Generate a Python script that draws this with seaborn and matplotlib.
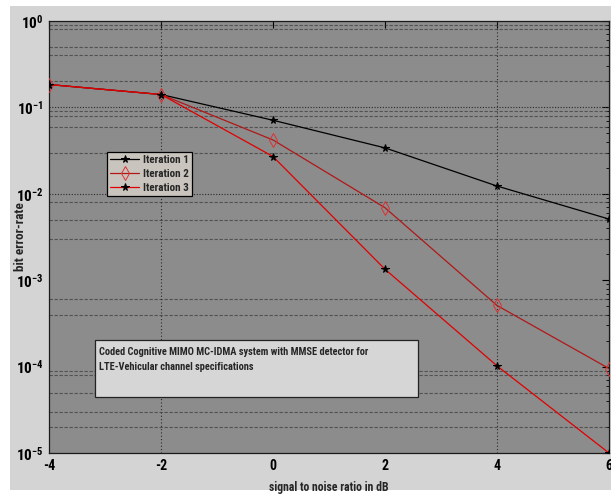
import matplotlib
matplotlib.use("Agg")
import matplotlib.pyplot as plt
import matplotlib.ticker as mticker
from matplotlib import font_manager as fm
from matplotlib.patches import Rectangle
import seaborn as sns
import pandas as pd
import numpy as np

snr = [-4, -2, 0, 2, 4, 6]
iter1 = [0.184, 0.141, 0.071, 0.034, 0.0123, 0.0051]
iter2 = [0.184, 0.141, 0.042, 0.0069, 0.00051, 0.000095]
iter3 = [0.184, 0.141, 0.027, 0.00134, 0.000102, 0.00001]
labels = ["Iteration 1", "Iteration 2", "Iteration 3"]
xticks = [-4, -2, 0, 2, 4, 6]
xlabel = "signal to noise ratio in dB"
ylabel = "bit error-rate"
note = "Coded Cognitive MIMO MC-IDMA system with MMSE detector for\nLTE-Vehicular channel specifications"
hgrid_minor = [0.9, 0.8, 0.5, 0.4, 0.2, 0.09, 0.08, 0.06, 0.03, 0.008, 0.005, 0.003,
               0.0006, 0.0004, 9e-5, 8e-5, 5e-5, 3e-5, 2e-5]
hgrid_major = [0.1, 0.01]
vgrid = [-2, 4]

sns.set_style("white")

# look for an installed condensed / narrow family
cond = None
cand = []
for f in fm.fontManager.ttflist:
    n = f.name
    st = f.stretch
    if ("Narrow" in n or "Condensed" in n) or (st not in ("normal", 500) and
                                                str(st).lower().startswith(("condensed", "semi-condensed", "extra-condensed"))):
        cand.append(f)
pref = ["Liberation Sans Narrow", "DejaVu Sans Condensed", "Roboto Condensed",
        "Open Sans Condensed", "Noto Sans Condensed"]
names = {f.name for f in cand}
for p in pref:
    if p in names:
        cond = p
        break
STRETCH = "normal"
if cond is None:
    for f in cand:
        if "DejaVu Sans" == f.name and "ondensed" in str(f.stretch):
            cond = "DejaVu Sans"
            STRETCH = "condensed"
            break
if cond is None and cand:
    cond = cand[0].name
    STRETCH = cand[0].stretch
if cond is None:
    cond = "DejaVu Sans"

FAM = [cond, "DejaVu Sans"]
plt.rcParams["font.family"] = FAM
plt.rcParams["font.stretch"] = STRETCH
plt.rcParams["mathtext.default"] = "regular"

fig = plt.figure(figsize=(6.11, 4.95), dpi=100, facecolor="white")
fig.patches.append(Rectangle((10/611, 5/495), 601/611, 484/495, transform=fig.transFigure,
                             facecolor="#d4d4d4", edgecolor="none", zorder=-10))
ax = fig.add_axes([49/611, 1-453/495, 560/611, 432/495])
ax.set_facecolor("#8c8c8c")

df = pd.DataFrame({"snr": snr * 3, "ber": iter1 + iter2 + iter3,
                   "it": [labels[0]] * 6 + [labels[1]] * 6 + [labels[2]] * 6})

for v in hgrid_minor:
    ax.axhline(v, color="#3a3a3a", lw=0.8, ls=(0, (3, 1.5)), alpha=0.7, zorder=1)
for v in hgrid_major:
    ax.axhline(v, color="#2a2a2a", lw=0.8, ls=(0, (1, 1.5)), zorder=1)
for v in vgrid:
    ax.axvline(v, color="#2a2a2a", lw=0.8, ls=(0, (1, 2)), zorder=1)

sns.lineplot(data=df[df.it == labels[0]], x="snr", y="ber", ax=ax, color="black", lw=0.9,
             marker="*", markersize=5.5, markerfacecolor="black", markeredgecolor="black",
             label=labels[0], zorder=3)
sns.lineplot(data=df[df.it == labels[1]], x="snr", y="ber", ax=ax, color="#b01818", lw=0.9,
             marker="d", markersize=7, markerfacecolor="none", markeredgecolor="#e03030",
             markeredgewidth=0.7, label=labels[1], zorder=3)
sns.lineplot(data=df[df.it == labels[2]], x="snr", y="ber", ax=ax, color="#e00000", lw=0.9,
             marker="*", markersize=5.5, markerfacecolor="black", markeredgecolor="black",
             label=labels[2], zorder=3)

ax.set_yscale("log")
ax.set_ylim(1e-5, 1)
ax.set_xlim(-4, 6)
ax.set_xticks(xticks)
ax.set_xticklabels([str(t) for t in xticks], fontsize=10, fontweight="bold")
ax.yaxis.set_major_locator(mticker.LogLocator(base=10, numticks=10))
ax.yaxis.set_minor_locator(mticker.LogLocator(base=10, subs=np.arange(2, 10), numticks=20))
ax.yaxis.set_minor_formatter(mticker.NullFormatter())
ax.yaxis.set_major_formatter(mticker.FuncFormatter(
    lambda v, p: r"$\mathregular{10^{%d}}$" % int(round(np.log10(v)))))
for t in ax.get_yticklabels():
    t.set_fontsize(11)
    t.set_fontweight("bold")
ax.tick_params(axis="both", which="both", direction="in", top=True, right=True,
               colors="black", pad=4)
ax.tick_params(which="major", length=5, width=0.8)
ax.tick_params(which="minor", length=2.5, width=0.6)
for s in ax.spines.values():
    s.set_color("#1a1a1a")
    s.set_linewidth(0.9)

ax.set_xlabel(xlabel, fontsize=8.5, fontweight="bold", labelpad=6)
ax.set_ylabel(ylabel, fontsize=9.5, fontweight="bold")
ax.yaxis.set_label_coords(-0.04, 0.5)

leg = ax.legend(loc="upper left", bbox_to_anchor=(0.1036, 0.697), fontsize=8,
                frameon=True, fancybox=False, handlelength=2.6, borderpad=0.3,
                labelspacing=0.35, handletextpad=0.3, borderaxespad=0)
leg.get_frame().set_facecolor("#c9c5be")
leg.get_frame().set_edgecolor("black")
leg.get_frame().set_linewidth(0.9)
leg.get_frame().set_alpha(1)
for t in leg.get_texts():
    t.set_fontweight("bold")

ax.add_patch(Rectangle((0.082, 0.1296), 0.577, 0.132, transform=ax.transAxes,
                       facecolor="#d6d6d6", edgecolor="#222222", lw=0.9, zorder=5))
ax.text(0.089, 0.245, note, transform=ax.transAxes, fontsize=7.5, fontweight="bold",
        va="top", ha="left", linespacing=1.6, zorder=6)

fig.savefig("out.png", dpi=100, facecolor=fig.get_facecolor())
